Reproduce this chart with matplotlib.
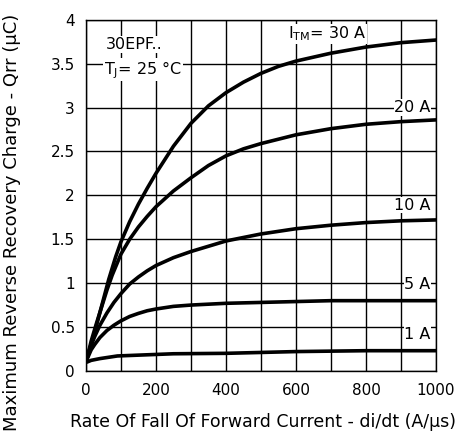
import matplotlib
matplotlib.use('Agg')
import matplotlib.pyplot as plt
from matplotlib.ticker import FuncFormatter

# di/dt (A/us) and Qrr (uC)
DIDT_30 = [3, 10, 25, 45, 65, 85, 100, 125, 150, 175, 200, 250, 300, 350,
           400, 450, 500, 550, 600, 700, 800, 900, 1000]
QRR_30 = [0.14, 0.24, 0.44, 0.74, 1.04, 1.30, 1.47, 1.70, 1.90, 2.08, 2.25,
          2.56, 2.82, 3.02, 3.17, 3.29, 3.39, 3.47, 3.53, 3.62, 3.69, 3.74, 3.77]

DIDT_20 = [3, 15, 30, 45, 60, 75, 100, 125, 150, 175, 200, 250, 300, 350, 400,
           450, 500, 550, 600, 700, 800, 900, 1000]
QRR_20 = [0.14, 0.34, 0.54, 0.73, 0.92, 1.09, 1.33, 1.50, 1.64, 1.76, 1.87,
          2.05, 2.20, 2.34, 2.45, 2.53, 2.59, 2.64, 2.69, 2.76, 2.81, 2.84, 2.86]

DIDT_10 = [3, 15, 25, 40, 60, 80, 100, 125, 150, 175, 200, 250, 300, 350, 400,
           500, 600, 700, 800, 900, 1000]
QRR_10 = [0.14, 0.29, 0.39, 0.52, 0.66, 0.78, 0.88, 0.99, 1.07, 1.14, 1.20,
          1.29, 1.36, 1.42, 1.48, 1.56, 1.62, 1.66, 1.69, 1.71, 1.72]

DIDT_5 = [3, 15, 25, 40, 60, 80, 100, 125, 150, 175, 200, 250, 300, 400, 500,
          600, 700, 800, 900, 1000]
QRR_5 = [0.13, 0.24, 0.30, 0.38, 0.46, 0.52, 0.57, 0.62, 0.655, 0.685, 0.705,
         0.735, 0.75, 0.77, 0.78, 0.79, 0.80, 0.80, 0.80, 0.80]

DIDT_1 = [3, 15, 40, 90, 250, 400, 600, 800, 1000]
QRR_1 = [0.10, 0.12, 0.14, 0.17, 0.195, 0.20, 0.22, 0.23, 0.23]

SERIES = [(DIDT_30, QRR_30), (DIDT_20, QRR_20), (DIDT_10, QRR_10),
          (DIDT_5, QRR_5), (DIDT_1, QRR_1)]
BOX = dict(facecolor='white', edgecolor='none', pad=0.5)
FS = 11.5

plt.rcParams['font.family'] = ['DejaVu Sans']

fig = plt.figure(figsize=(4.57, 4.41), dpi=100)
ax = fig.add_axes([0.188, 0.159, 0.766, 0.796])

for didt, qrr in SERIES:
    ax.plot(didt, qrr, color='black', linewidth=2.6, solid_capstyle='round',
            solid_joinstyle='round', zorder=3)

ax.set_xlim(0, 1000)
ax.set_ylim(0, 4)
ax.set_xticks(range(0, 1001, 200))
ax.set_xticks(range(0, 1001, 100), minor=True)
ax.set_yticks([i * 0.5 for i in range(9)])
ax.yaxis.set_major_formatter(FuncFormatter(lambda v, p: f'{v:g}'))
ax.grid(True, which='both', color='black', linewidth=1.0)
ax.tick_params(which='both', length=0, labelsize=11)
ax.tick_params(axis='x', pad=9)
ax.tick_params(axis='y', pad=8)
for sp in ax.spines.values():
    sp.set_linewidth(1.0)

ax.set_xlabel('Rate Of Fall Of Forward Current - di/dt (A/µs)', fontsize=12.5)
ax.set_ylabel('Maximum Reverse Recovery Charge - Qrr (µC)', fontsize=13)
ax.xaxis.set_label_coords(0.506, -0.12)
ax.yaxis.set_label_coords(-0.186, 0.424)

ax.text(58, 3.72, '30EPF..', fontsize=FS, va='center', bbox=BOX, zorder=4)
ax.text(52, 3.43, r'T$_\mathregular{J}$= 25 °C', fontsize=FS, va='center', bbox=BOX, zorder=4)
ax.text(578, 3.84, r'I$_\mathregular{TM}$= 30 A', fontsize=FS, va='center', bbox=BOX, zorder=4)
ax.text(985, 3.0, '20 A', fontsize=FS, va='center', ha='right', bbox=BOX, zorder=4)
ax.text(985, 1.89, '10 A', fontsize=FS, va='center', ha='right', bbox=BOX, zorder=4)
ax.text(985, 0.98, '5 A', fontsize=FS, va='center', ha='right', bbox=BOX, zorder=4)
ax.text(985, 0.42, '1 A', fontsize=FS, va='center', ha='right', bbox=BOX, zorder=4)

fig.savefig('out.png', dpi=100)
